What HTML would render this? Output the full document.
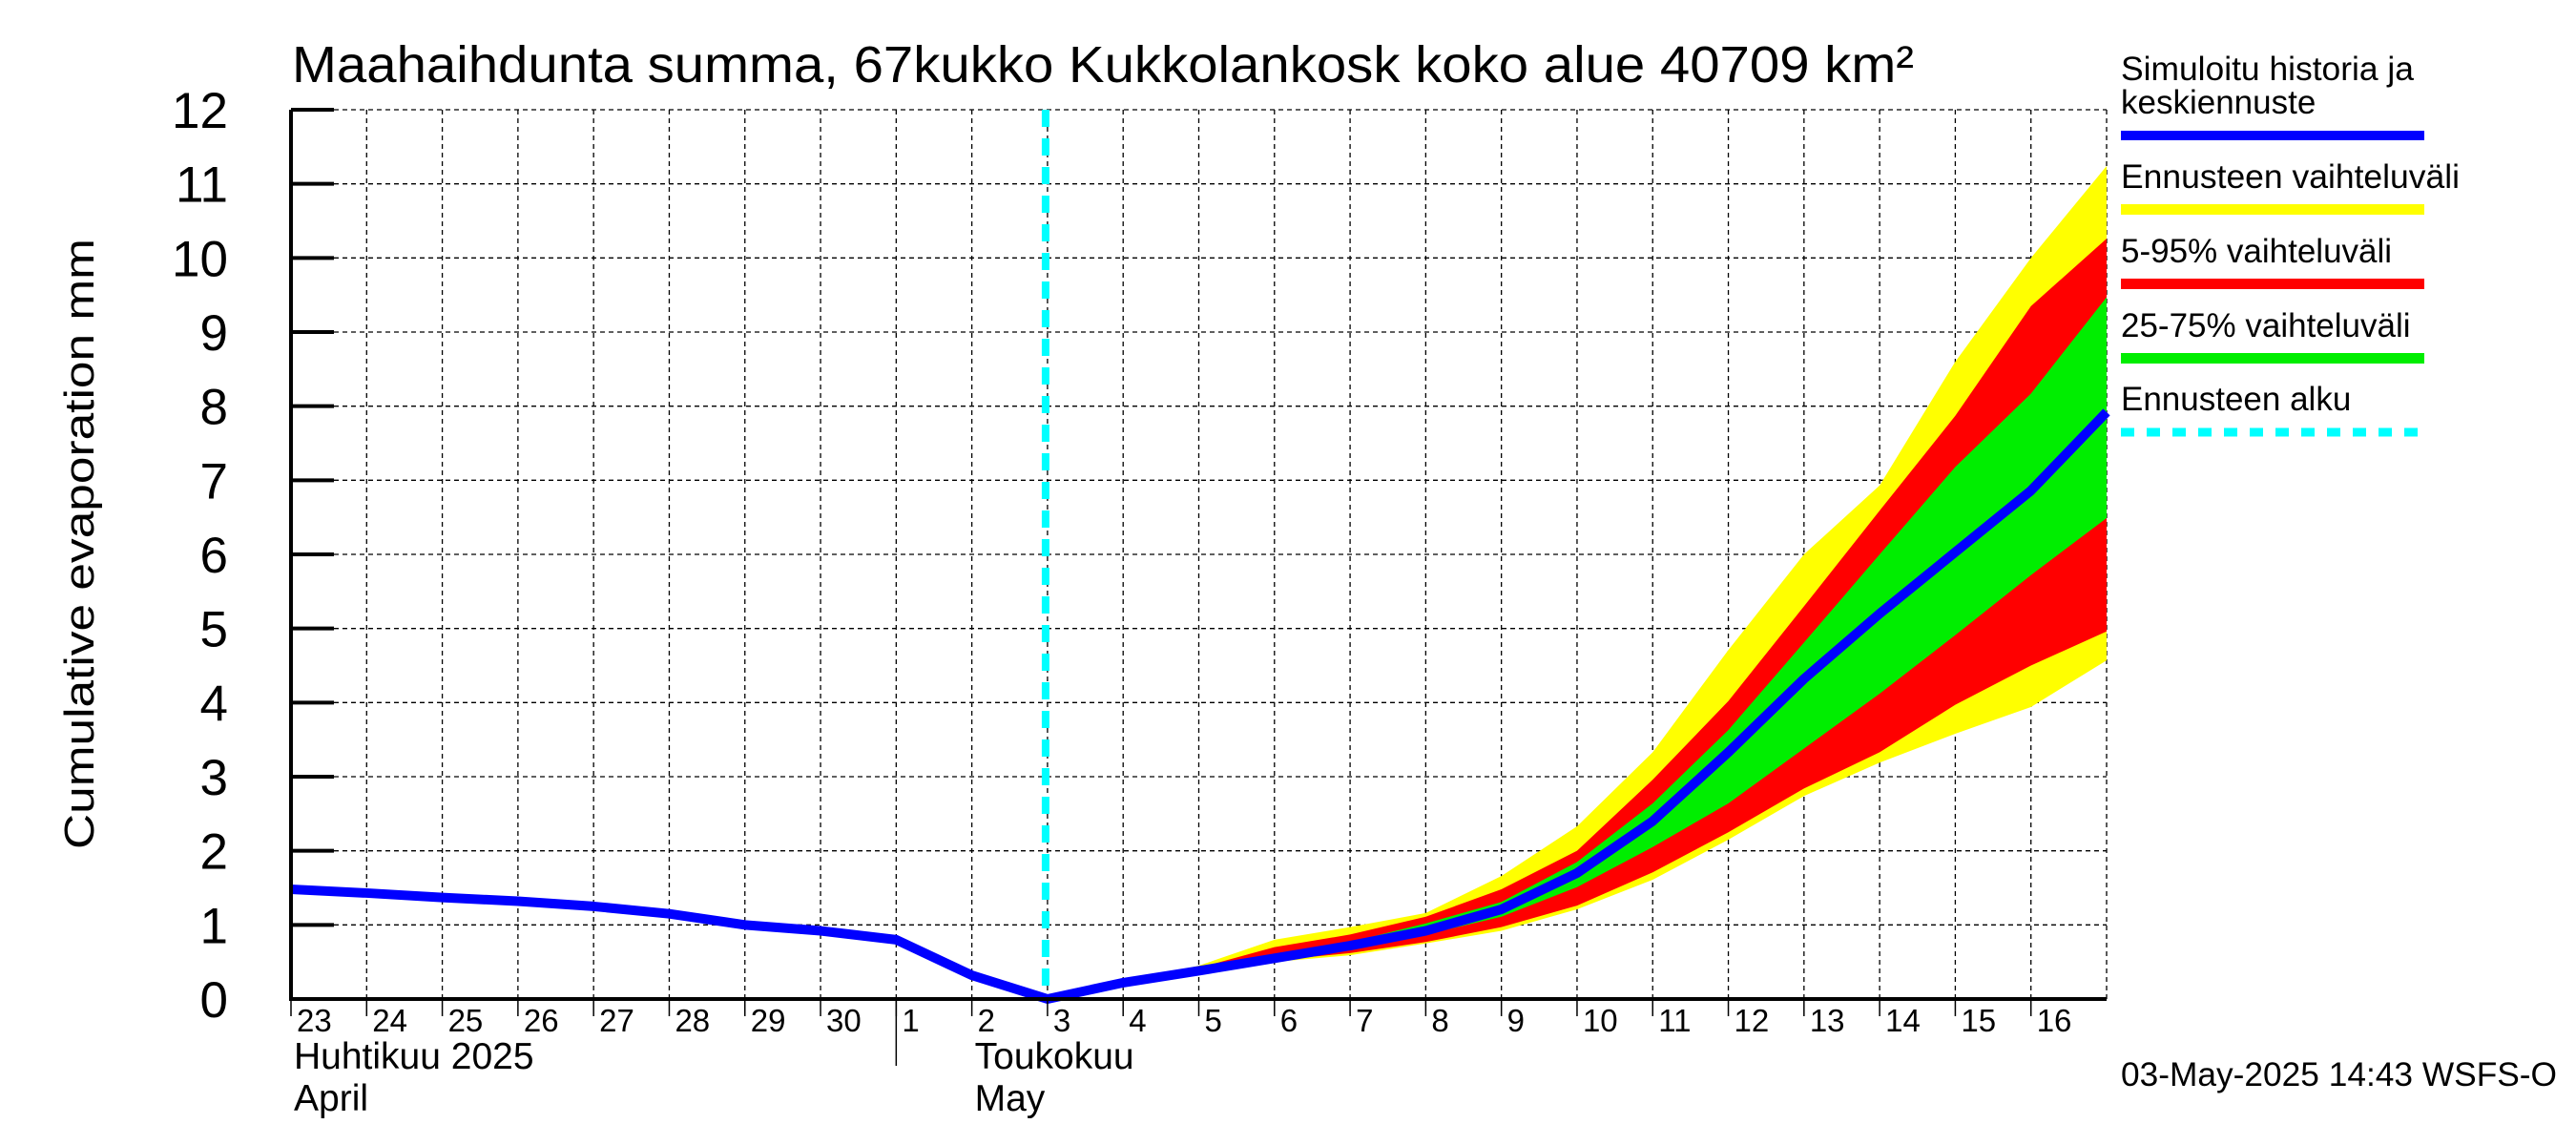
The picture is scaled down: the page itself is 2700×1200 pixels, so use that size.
<!DOCTYPE html>
<html><head><meta charset="utf-8"><style>
html,body{margin:0;padding:0;background:#fff;}
svg{display:block;font-family:"Liberation Sans",sans-serif;}
</style></head><body>
<svg id="chart" width="2700" height="1200" xmlns="http://www.w3.org/2000/svg">
<rect width="2700" height="1200" fill="#fff"/>
<text x="306" y="86" font-size="54" textLength="1700" lengthAdjust="spacingAndGlyphs">Maahaihdunta summa, 67kukko Kukkolankosk koko alue 40709 km²</text>
<text transform="translate(98,570) rotate(-90)" text-anchor="middle" font-size="44" textLength="640" lengthAdjust="spacingAndGlyphs">Cumulative evaporation   mm</text>
<g id="grid"></g>
<g id="bands"></g>
<g id="lines"></g>
<g id="axes"></g>
<g font-size="35">
<text x="2223" y="84" textLength="307" lengthAdjust="spacingAndGlyphs">Simuloitu historia ja</text>
<text x="2223" y="119">keskiennuste</text>
<rect x="2223" y="137" width="318" height="10" fill="#0000ff"/>
<text x="2223" y="197" textLength="355" lengthAdjust="spacingAndGlyphs">Ennusteen vaihteluväli</text>
<rect x="2223" y="214" width="318" height="11" fill="#ffff00"/>
<text x="2223" y="275">5-95% vaihteluväli</text>
<rect x="2223" y="292" width="318" height="11" fill="#ff0000"/>
<text x="2223" y="353">25-75% vaihteluväli</text>
<rect x="2223" y="370" width="318" height="11" fill="#00ee00"/>
<text x="2223" y="430">Ennusteen alku</text>
<line x1="2223" y1="453" x2="2541" y2="453" stroke="#00ffff" stroke-width="9" stroke-dasharray="14,13"/>
</g>
<text x="2223" y="1138" font-size="35" textLength="457" lengthAdjust="spacingAndGlyphs">03-May-2025 14:43 WSFS-O</text>
</svg>
<script>
const dayLabels=["23","24","25","26","27","28","29","30","1","2","3","4","5","6","7","8","9","10","11","12","13","14","15","16"];
const yTicks=[0,1,2,3,4,5,6,7,8,9,10,11,12];
const median=[1.48,1.43,1.37,1.32,1.25,1.15,1.0,0.92,0.8,0.32,0.0,0.22,0.38,0.55,0.72,0.92,1.21,1.7,2.4,3.33,4.32,5.2,6.03,6.86,7.92];
const fcStart=10;
const yellowHi=[0,0.22,0.45,0.8,0.97,1.16,1.66,2.33,3.33,4.71,6.0,6.93,8.6,10.0,11.24];
const redHi=[0,0.22,0.42,0.7,0.87,1.11,1.48,2.0,2.96,4.02,5.3,6.59,7.87,9.35,10.26];
const greenHi=[0,0.22,0.4,0.6,0.77,1.02,1.31,1.85,2.64,3.63,4.81,6.0,7.18,8.17,9.47];
const greenLo=[0,0.22,0.37,0.55,0.67,0.87,1.11,1.51,2.05,2.64,3.38,4.12,4.91,5.72,6.49];
const redLo=[0,0.22,0.36,0.52,0.62,0.77,0.97,1.26,1.71,2.25,2.84,3.33,3.97,4.5,4.96];
const yellowLo=[0,0.22,0.35,0.5,0.59,0.75,0.92,1.21,1.61,2.15,2.74,3.19,3.58,3.94,4.57];

const L=305,R=2208,T=115,B=1047,ND=24;
const X=i=>L+i*(R-L)/ND;
const Y=v=>B-v*(B-T)/12;
const NS="http://www.w3.org/2000/svg";
function mk(tag,attrs,parent){const e=document.createElementNS(NS,tag);for(const k in attrs)e.setAttribute(k,attrs[k]);parent.appendChild(e);return e;}
const grid=document.getElementById('grid'),bands=document.getElementById('bands'),lines=document.getElementById('lines'),axes=document.getElementById('axes');
for(let i=1;i<=ND;i++){const g=mk('line',{x1:X(i),y1:T,x2:X(i),y2:B,stroke:'#000','stroke-width':1.3,'stroke-dasharray':'5,4'},grid);

}
yTicks.forEach(v=>{if(v===0)return;const g=mk('line',{x1:L,y1:Y(v),x2:R,y2:Y(v),stroke:'#000','stroke-width':1.3,'stroke-dasharray':'5,4'},grid);

});
function band(hi,lo,color,name){let pts=[];hi.forEach((v,k)=>pts.push(X(fcStart+k)+','+Y(v)));for(let k=lo.length-1;k>=0;k--)pts.push(X(fcStart+k)+','+Y(lo[k]));
const p=mk('polygon',{points:pts.join(' '),fill:color},bands);

}
band(yellowHi,yellowLo,'#ffff00','band-full-range');
band(redHi,redLo,'#ff0000','band-5-95');
band(greenHi,greenLo,'#00ee00','band-25-75');
const fl=mk('line',{x1:X(fcStart)-2,y1:T,x2:X(fcStart)-2,y2:B,stroke:'#00ffff','stroke-width':8,'stroke-dasharray':'18,12'},lines);


const ml=mk('polyline',{points:median.map((v,i)=>X(i)+','+Y(v)).join(' '),fill:'none',stroke:'#0000ff','stroke-width':10,'stroke-linejoin':'round'},lines);


const ax=mk('polyline',{points:`${L},${T} ${L},${B} ${R},${B}`,fill:'none',stroke:'#000','stroke-width':4},axes);


yTicks.forEach(v=>{const t=mk('line',{x1:L,y1:Y(v),x2:L+45,y2:Y(v),stroke:'#000','stroke-width':4},axes);


const tx=mk('text',{x:239,y:Y(v)+19,'text-anchor':'end','font-size':53},axes);tx.textContent=v;

});
dayLabels.forEach((d,i)=>{const t=mk('line',{x1:X(i),y1:B,x2:X(i),y2:B+18,stroke:'#000','stroke-width':1.5},axes);


const tx=mk('text',{x:X(i)+6,y:1081,'font-size':33},axes);tx.textContent=d;

});
const sep=mk('line',{x1:X(8),y1:B,x2:X(8),y2:1117,stroke:'#000','stroke-width':1.5},axes);


[["Huhtikuu  2025",L+3,1120,'april-label-fi'],["April",L+3,1164,'april-label-en'],["Toukokuu",X(9)+3,1120,'may-label-fi'],["May",X(9)+3,1164,'may-label-en']].forEach(a=>{
const tx=mk('text',{x:a[1],y:a[2],'font-size':39},axes);tx.textContent=a[0];

});
</script>
</body></html>
